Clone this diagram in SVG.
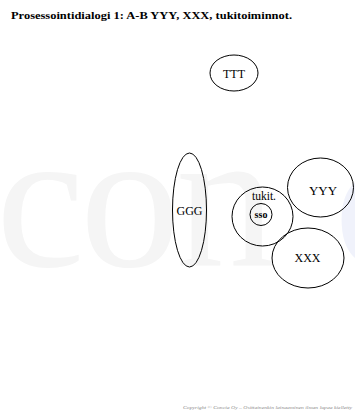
<svg xmlns="http://www.w3.org/2000/svg" width="355" height="414" viewBox="0 0 355 414">
  <style>
    .node { fill: none; stroke: #000; stroke-width: 1; }
    .lbl { font-family: "Liberation Serif", "Times New Roman", serif; font-size: 12px; fill: #000; text-anchor: middle; }
    .title { font-family: "Liberation Serif", "Times New Roman", serif; font-size: 11px; font-weight: bold; fill: #000; }
    .mark { font-family: "Liberation Serif", "Times New Roman", serif; font-size: 200px; }
    .copy { font-family: "Liberation Serif", "Times New Roman", serif; font-size: 4.8px; font-style: italic; fill: #8a8a8a; }
  </style>
  <rect width="355" height="414" fill="#fff"/>

  <!-- background watermark -->
  <g id="watermark">
    <text class="mark" y="266" fill="#f5f5f5"><tspan x="-4">c</tspan><tspan x="80">o</tspan><tspan x="176">n</tspan></text>
    <text class="mark" x="334" y="266" fill="#f0f2fb">c</text>
  </g>

  <text class="title" x="11" y="19" textLength="281" lengthAdjust="spacingAndGlyphs">Prosessointidialogi 1: A-B YYY, XXX, tukitoiminnot.</text>

  <g id="connectors"></g>

  <g id="ttt">
    <ellipse class="node" cx="234" cy="73" rx="24" ry="18"/>
    <text class="lbl" x="234" y="78">TTT</text>
  </g>
  <g id="ggg">
    <ellipse class="node" cx="189.5" cy="210" rx="17" ry="57"/>
    <text class="lbl" x="189.5" y="215">GGG</text>
  </g>
  <g id="tukit">
    <ellipse class="node" cx="262.5" cy="216.5" rx="30.5" ry="29.5"/>
    <text class="lbl" x="264" y="199.5" style="font-size:11.5px">tukit.</text>
  </g>
  <g id="sso">
    <circle class="node" cx="261" cy="214.5" r="11"/>
    <text class="lbl" x="261" y="218" style="font-size:10px;font-weight:bold">sso</text>
  </g>
  <g id="yyy">
    <ellipse class="node" cx="320.5" cy="187.5" rx="33" ry="29.5"/>
    <text class="lbl" x="323" y="195" style="font-size:13px">YYY</text>
  </g>
  <g id="xxx">
    <ellipse class="node" cx="308" cy="258" rx="36" ry="30"/>
    <text class="lbl" x="307.5" y="262">XXX</text>
  </g>

  <text class="copy" x="183" y="409" textLength="169" lengthAdjust="spacingAndGlyphs">Copyright © Concia Oy – Osittainenkin lainaaminen ilman lupaa kielletty</text>
</svg>
